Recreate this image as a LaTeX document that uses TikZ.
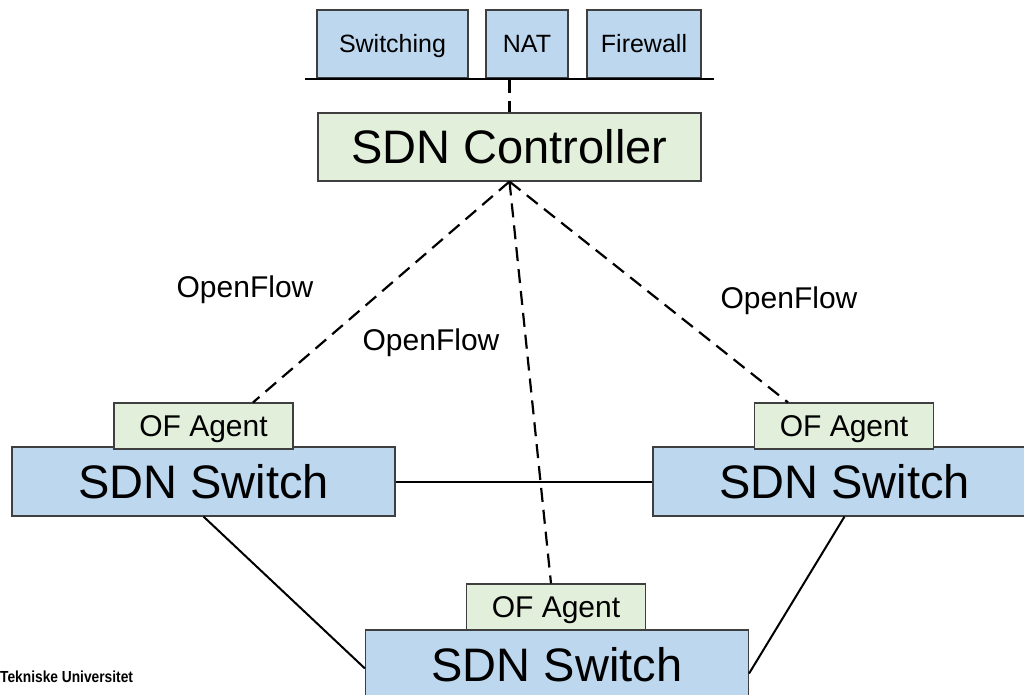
\documentclass[tikz,border=0pt]{standalone}
\usepackage{fontspec}
\setmainfont{Liberation Sans}
\definecolor{swblue}{HTML}{BDD7EE}
\definecolor{ctgreen}{HTML}{E2EFDA}
\definecolor{edge}{HTML}{3F3F3F}
\begin{document}
\begin{tikzpicture}[x=1pt,y=-1pt,
  box/.style={draw=edge, line width=1.1pt, inner sep=0pt, anchor=center, text depth=0pt},
  appbox/.style={box, fill=swblue, minimum height=68pt, text height=18pt, font=\fontsize{25}{25}\selectfont},
  ctlbox/.style={box, fill=ctgreen, minimum width=383pt, minimum height=68pt, text height=33.7pt, font=\fontsize{47}{47}\selectfont},
  swbox/.style={box, fill=swblue, minimum width=383pt, minimum height=69pt, text height=33.7pt, font=\fontsize{47}{47}\selectfont},
  agentbox/.style={box, fill=ctgreen, minimum width=179pt, minimum height=46pt, text height=21.5pt, font=\fontsize{30}{30}\selectfont},
  ofline/.style={line width=2.2pt, dash pattern=on 14pt off 8pt},
  link/.style={line width=2pt},
  lbl/.style={font=\fontsize{30}{30}\selectfont, inner sep=0pt}]
\useasboundingbox (0,0) rectangle (1024,695);
\clip (0,0) rectangle (1024,695);

% applications on the northbound bus
\node[appbox, minimum width=151pt] (sw)  at (392.5,44) {Switching};
\node[appbox, minimum width=82pt]  (nat) at (527,44) {NAT};
\node[appbox, minimum width=114pt] (fw)  at (644,44) {Firewall};
\coordinate (busL) at (305,79);
\coordinate (busR) at (714,79);
\coordinate (busM) at (509.5,79);
\draw[line width=2.5pt] (busL) -- (busR);

% controller
\node[ctlbox] (ctl) at (509.5,147) {SDN Controller};
\draw[ofline] (busM) -- (ctl.north);

% switches with their agents
\node[swbox] (ls) at (203.5,481.5) {SDN Switch};
\node[agentbox] (la) at (203.5,426) {OF Agent};
\node[swbox] (rs) at (844.5,481.5) {SDN Switch};
\node[agentbox] (ra) at (844,426) {OF Agent};
\node[swbox] (bs) at (557,664.5) {SDN Switch};
\node[agentbox] (ba) at (556,607) {OF Agent};

% data-plane links
\draw[link] (ls.east) -- (rs.west);
\draw[link] (ls.south) -- ([yshift=-4pt]bs.west);
\draw[link] (rs.south) -- ([yshift=-9pt]bs.east);

% OpenFlow channels
\draw[ofline] (ctl.south) -- ([xshift=49.5pt]la.north);
\draw[ofline] (ctl.south) -- ([xshift=-5pt]ba.north);
\draw[ofline] (ctl.south) -- ([xshift=-56pt]ra.north);

\node[lbl] (of1) at (245,290) {OpenFlow};
\node[lbl] (of2) at (431,343) {OpenFlow};
\node[lbl] (of3) at (789,301) {OpenFlow};

\node[font=\bfseries\fontsize{16}{16}\selectfont, anchor=west, inner sep=0pt] (uni) at (0,677) {\scalebox{0.86}[1]{Tekniske Universitet}};
\end{tikzpicture}
\end{document}
